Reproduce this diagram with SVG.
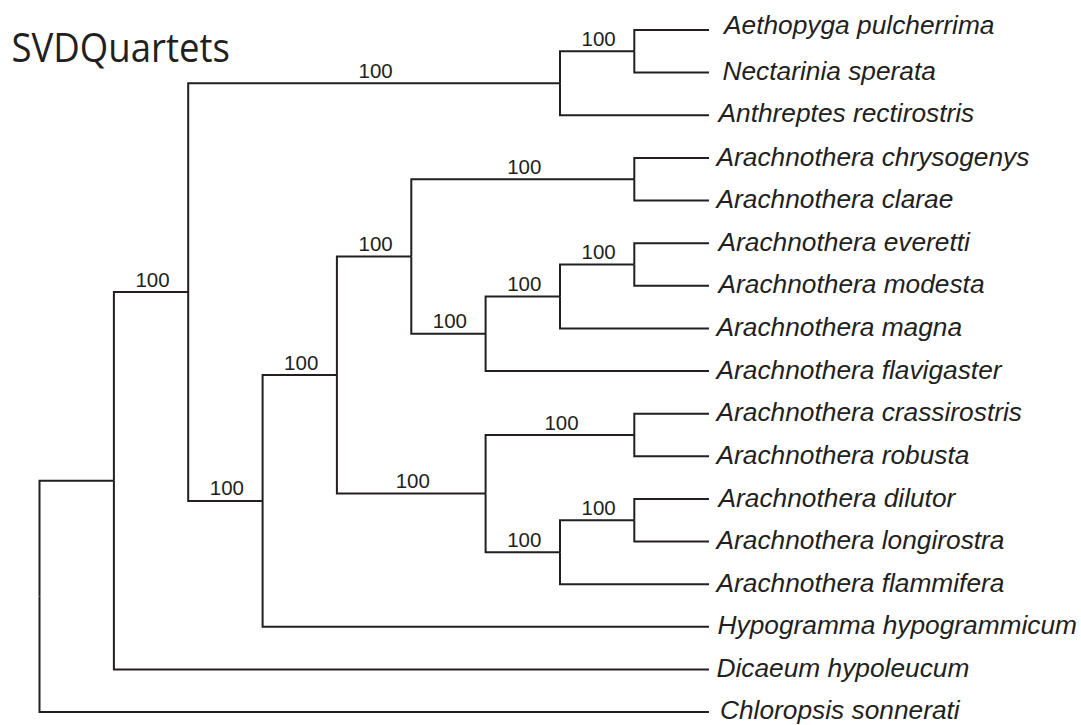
<svg xmlns="http://www.w3.org/2000/svg" width="1081" height="725" viewBox="0 0 1081 725">
<style>
.br{fill:none;stroke:#231f20;stroke-width:2;stroke-linejoin:miter;stroke-linecap:butt}
.tx{font-family:"Liberation Sans",Arial,sans-serif;font-style:italic;font-size:26.3px;fill:#231f20}
.bs{font-family:"Liberation Sans",Arial,sans-serif;font-size:20.5px;fill:#231f20;text-anchor:middle}
.ti{font-family:"Open Sans","Noto Sans",sans-serif;font-size:40px;fill:#231f20}
</style>
<rect width="1081" height="725" fill="#ffffff"/>
<text class="ti" x="11.5" y="61.7" textLength="218.5" lengthAdjust="spacingAndGlyphs">SVDQuartets</text>
<g id="connectors">
<path class="br" d="M39.5 596.5V480.8H113.9"/>
<path class="br" d="M39.5 596.5V712.1H709"/>
<path class="br" d="M113.9 480.8V292.1H188.2"/>
<path class="br" d="M113.9 480.8V669.5H709"/>
<path class="br" d="M188.2 292.1V83.3H560"/>
<path class="br" d="M188.2 292.1V500.9H262.6"/>
<path class="br" d="M560 83.3V51.3H634.3"/>
<path class="br" d="M560 83.3V115.3H709"/>
<path class="br" d="M634.3 51.3V30H709"/>
<path class="br" d="M634.3 51.3V72.6H709"/>
<path class="br" d="M262.6 500.9V375H336.9"/>
<path class="br" d="M262.6 500.9V626.8H709"/>
<path class="br" d="M336.9 375V256.5H411.3"/>
<path class="br" d="M336.9 375V493.6H485.6"/>
<path class="br" d="M411.3 256.5V179.2H634.3"/>
<path class="br" d="M411.3 256.5V333.7H485.6"/>
<path class="br" d="M634.3 179.2V157.9H709"/>
<path class="br" d="M634.3 179.2V200.5H709"/>
<path class="br" d="M485.6 333.7V296.4H560"/>
<path class="br" d="M485.6 333.7V371H709"/>
<path class="br" d="M560 296.4V264.5H634.3"/>
<path class="br" d="M560 296.4V328.4H709"/>
<path class="br" d="M634.3 264.5V243.2H709"/>
<path class="br" d="M634.3 264.5V285.8H709"/>
<path class="br" d="M485.6 493.6V435H634.3"/>
<path class="br" d="M485.6 493.6V552.2H560"/>
<path class="br" d="M634.3 435V413.7H709"/>
<path class="br" d="M634.3 435V456.3H709"/>
<path class="br" d="M560 552.2V520.3H634.3"/>
<path class="br" d="M560 552.2V584.2H709"/>
<path class="br" d="M634.3 520.3V498.9H709"/>
<path class="br" d="M634.3 520.3V541.6H709"/>
</g>
<g id="support">
<text class="bs" x="598.6" y="45.8">100</text>
<text class="bs" x="375.6" y="77.8">100</text>
<text class="bs" x="524.3" y="173.7">100</text>
<text class="bs" x="598.6" y="259">100</text>
<text class="bs" x="524.3" y="290.9">100</text>
<text class="bs" x="449.9" y="328.2">100</text>
<text class="bs" x="375.6" y="251">100</text>
<text class="bs" x="561.5" y="429.5">100</text>
<text class="bs" x="598.6" y="514.8">100</text>
<text class="bs" x="524.3" y="546.7">100</text>
<text class="bs" x="412.8" y="488.1">100</text>
<text class="bs" x="301.2" y="369.5">100</text>
<text class="bs" x="226.9" y="495.4">100</text>
<text class="bs" x="152.5" y="286.6">100</text>
</g>
<g id="leaf-aethopyga"><text class="tx" x="724" y="34">Aethopyga pulcherrima</text></g>
<g id="leaf-nectarinia"><text class="tx" x="722.5" y="80.3">Nectarinia sperata</text></g>
<g id="leaf-anthreptes"><text class="tx" x="718.5" y="122">Anthreptes rectirostris</text></g>
<g id="leaf-chrysogenys"><text class="tx" x="716.5" y="166.4">Arachnothera chrysogenys</text></g>
<g id="leaf-clarae"><text class="tx" x="716.5" y="208.3">Arachnothera clarae</text></g>
<g id="leaf-everetti"><text class="tx" x="718.5" y="250.8">Arachnothera everetti</text></g>
<g id="leaf-modesta"><text class="tx" x="718.5" y="293.4">Arachnothera modesta</text></g>
<g id="leaf-magna"><text class="tx" x="716.5" y="336">Arachnothera magna</text></g>
<g id="leaf-flavigaster"><text class="tx" x="716.5" y="378.6">Arachnothera flavigaster</text></g>
<g id="leaf-crassirostris"><text class="tx" x="716.5" y="421.3">Arachnothera crassirostris</text></g>
<g id="leaf-robusta"><text class="tx" x="716.5" y="463.9">Arachnothera robusta</text></g>
<g id="leaf-dilutor"><text class="tx" x="718.5" y="506.5">Arachnothera dilutor</text></g>
<g id="leaf-longirostra"><text class="tx" x="716.5" y="549.2">Arachnothera longirostra</text></g>
<g id="leaf-flammifera"><text class="tx" x="716.5" y="591.8">Arachnothera flammifera</text></g>
<g id="leaf-hypogramma"><text class="tx" x="717.5" y="634">Hypogramma hypogrammicum</text></g>
<g id="leaf-dicaeum"><text class="tx" x="716.5" y="676.5">Dicaeum hypoleucum</text></g>
<g id="leaf-chloropsis"><text class="tx" x="720" y="719">Chloropsis sonnerati</text></g>
</svg>
